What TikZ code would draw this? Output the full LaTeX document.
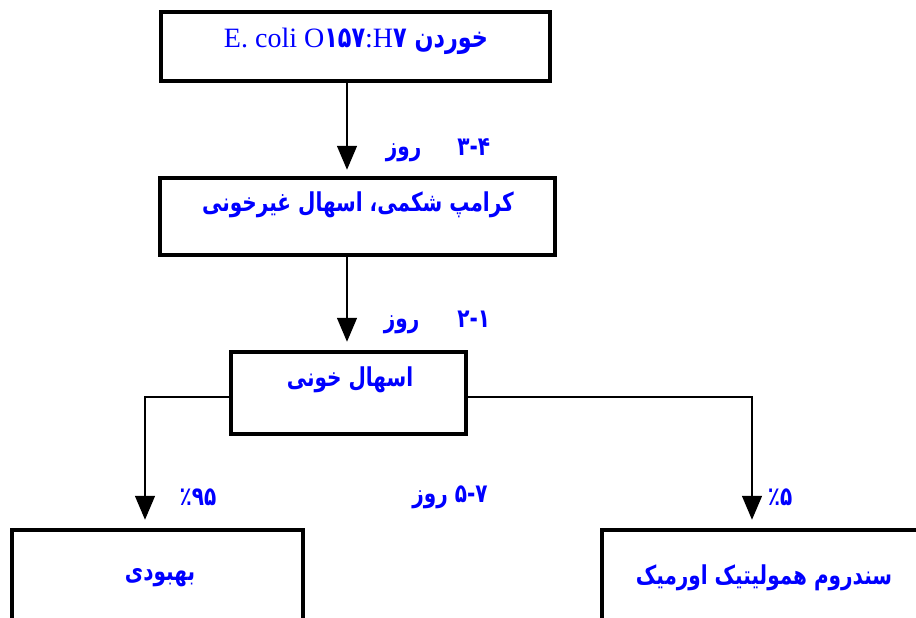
\documentclass[tikz,border=0pt]{standalone}
\usepackage{fontspec}
\setmainfont{Liberation Serif}
\newfontfamily\fa[Script=Arabic,FakeStretch=0.77]{DejaVu Sans}
\newfontfamily\lat{Liberation Serif}
\TeXXeTstate=1
\usetikzlibrary{arrows.meta}

\tikzset{
  box/.style={draw, rectangle, line width=4.5pt, inner sep=0pt},
  lbl/.style={text=blue, inner sep=0pt, font=\fa\bfseries\fontsize{26}{30}\selectfont},
  arr/.style={-{Triangle[width=20pt,length=24pt]}, line width=1.5pt},
}

\begin{document}
\begin{tikzpicture}[x=1pt,y=-1pt]

 \useasboundingbox (0,0) rectangle (916,618);
 \clip (0,0) rectangle (916,618);

 \node[box, minimum width=389pt, minimum height=69pt] (eat) at (355.5,46.5) {};
 \node[box, minimum width=395pt, minimum height=77pt] (cramp) at (357.5,216.5) {};
 \node[box, minimum width=235pt, minimum height=82pt] (bloody) at (348.5,393) {};
 \node[box, minimum width=291pt, minimum height=170pt] (recover) at (157.5,615) {};
 \node[box, minimum width=324pt, minimum height=170pt] (hus) at (764,615) {};

 \path (347,0) coordinate (axis);
 \path (145,397) coordinate (lft);
 \path (752,397) coordinate (rgt);

 \node[lbl, font=\fa\bfseries\fontsize{29}{32}\selectfont] (eatT) at (356,41)
   {\beginR خوردن \beginL{\lat\mdseries\fontsize{28}{32}\selectfont E. coli O}۱۵۷{\lat\mdseries\fontsize{28}{32}\selectfont :H}۷\endL\endR};
 \node[lbl] (crampT) at (358,205) {\beginR کرامپ شکمی، اسهال غیرخونی\endR};
 \node[lbl] (bloodyT) at (350,380) {\beginR اسهال خونی\endR};
 \node[lbl] (recoverT) at (160,578) {\beginR بهبودی\endR};
 \node[lbl] (husT) at (764,578) {\beginR سندروم همولیتیک اورمیک\endR};

 \draw[arr, shorten >=6pt] (eat.south -| axis) -- (cramp.north -| axis);
 \draw[arr, shorten >=8pt] (cramp.south -| axis) -- (bloody.north -| axis);
 \draw[arr, shorten >=8pt] (bloody.west |- lft) -- (lft) -- (recover.north -| lft);
 \draw[arr, shorten >=8pt] (bloody.east |- rgt) -- (rgt) -- (hus.north -| rgt);

 \node[lbl] (d1) at (438,150) {\beginR ۳-۴\hspace{36pt}روز\endR};
 \node[lbl] (d2) at (437,322) {\beginR ۲-۱\hspace{38pt}روز\endR};
 \node[lbl] (d3) at (450,497) {\beginR ۵-۷ روز\endR};
 \node[lbl] (p1) at (198,497) {\beginR ٪۹۵\endR};
 \node[lbl] (p2) at (780,497) {\beginR ٪۵\endR};

\end{tikzpicture}
\end{document}
